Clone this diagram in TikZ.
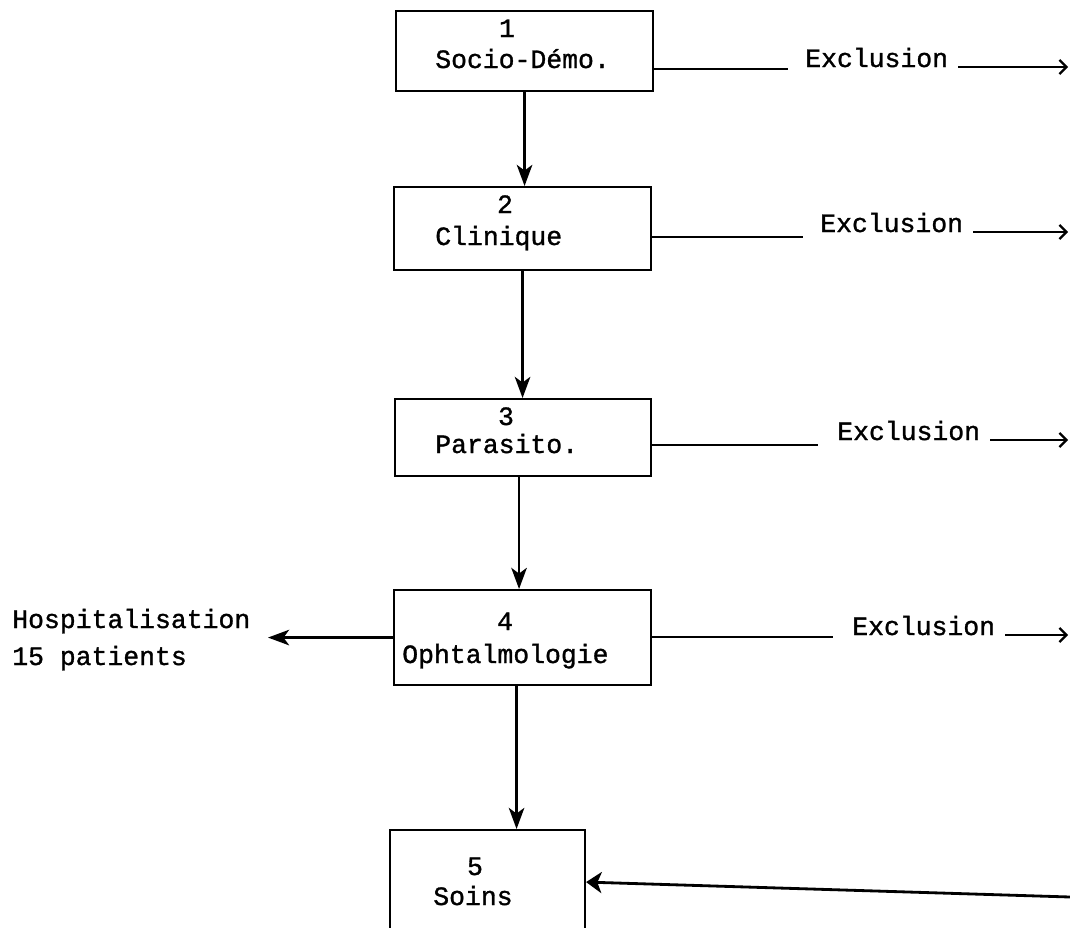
\documentclass[tikz,border=0pt]{standalone}
\usepackage{fontspec}
\newfontfamily\typew[FakeBold=1.2]{Liberation Mono}
\usetikzlibrary{arrows.meta}
\newcommand{\pxu}{0.025cm}
\tikzset{
  etape/.style={draw, line width=1.5pt, inner sep=0pt, anchor=north west},
  txt/.style={inner sep=0pt, font=\typew\fontsize{18.8}{26}\selectfont},
  fleche/.style={line width=2pt, -{Stealth[length=15pt,width=11pt,inset=4pt]}},
  retour/.style={line width=2pt, -{Stealth[length=11pt,width=15pt,inset=3pt]}},
  sortie/.style={line width=1.6pt, -{Straight Barb[length=5pt,width=10pt]}},
  trait/.style={line width=1pt},
}
\begin{document}
\begin{tikzpicture}[x=\pxu,y=-\pxu]
\useasboundingbox (0,0) rectangle (1070,927);
\clip (0,0) rectangle (1070,927);
\node[etape, minimum width=257*\pxu, minimum height=80*\pxu] (socio) at (395,10) {};
\node[etape, minimum width=257*\pxu, minimum height=83*\pxu] (clinique) at (393,186) {};
\node[etape, minimum width=256*\pxu, minimum height=77*\pxu] (parasito) at (394,398) {};
\node[etape, minimum width=257*\pxu, minimum height=95*\pxu] (ophtalmo) at (393,589) {};
\node[etape, minimum width=195*\pxu, minimum height=104*\pxu] (soins) at (389,829) {};
\node[txt, anchor=base] (num1) at (507,37) {1};
\node[txt, anchor=base west] (lab1) at (435,68) {Socio-Démo.};
\node[txt, anchor=base] (num2) at (505,213) {2};
\node[txt, anchor=base west] (lab2) at (435,245) {Clinique};
\node[txt, anchor=base] (num3) at (506,425) {3};
\node[txt, anchor=base west] (lab3) at (435,453) {Parasito.};
\node[txt, anchor=base] (num4) at (505,630) {4};
\node[txt, anchor=base west] (lab4) at (402,663) {Ophtalmologie};
\node[txt, anchor=base] (num5) at (475,875) {5};
\node[txt, anchor=base west] (lab5) at (433,905) {Soins};
\draw[fleche] (socio.south) -- (socio.south |- clinique.north);
\draw[fleche] (clinique.south) -- (clinique.south |- parasito.north);
\draw[fleche] ([xshift=-4*\pxu]parasito.south) -- ([xshift=-4*\pxu]parasito.south |- ophtalmo.north);
\draw[fleche] ([xshift=-6*\pxu]ophtalmo.south) -- ([xshift=-6*\pxu]ophtalmo.south |- soins.north);
\foreach \i/\b/\ly/\lx/\tx/\ay in {1/socio/69/788/805/67, 2/clinique/237/803/820/232, 3/parasito/445/818/837/440, 4/ophtalmo/637/833/852/635}{
  \coordinate (s\i) at (\lx,\ly);
  \draw[trait] (\b.east |- s\i) -- (s\i);
  \node[txt, anchor=base west] (excl\i) at (\tx,\ay) {Exclusion};
  \coordinate (e\i) at (1068,\ay);
  \draw[sortie] (excl\i.base east) ++(10,0) -- (e\i);
}
\node[txt, anchor=base west] (hosp1) at (12,628) {Hospitalisation};
\node[txt, anchor=base west] (hosp2) at (12,665) {15 patients};
\coordinate (h) at (268,637);
\draw[fleche] (ophtalmo.west) -- (ophtalmo.west -| h);
\coordinate (r) at (1070,897);
\draw[retour] (r) -- (soins.east);
\end{tikzpicture}
\end{document}
